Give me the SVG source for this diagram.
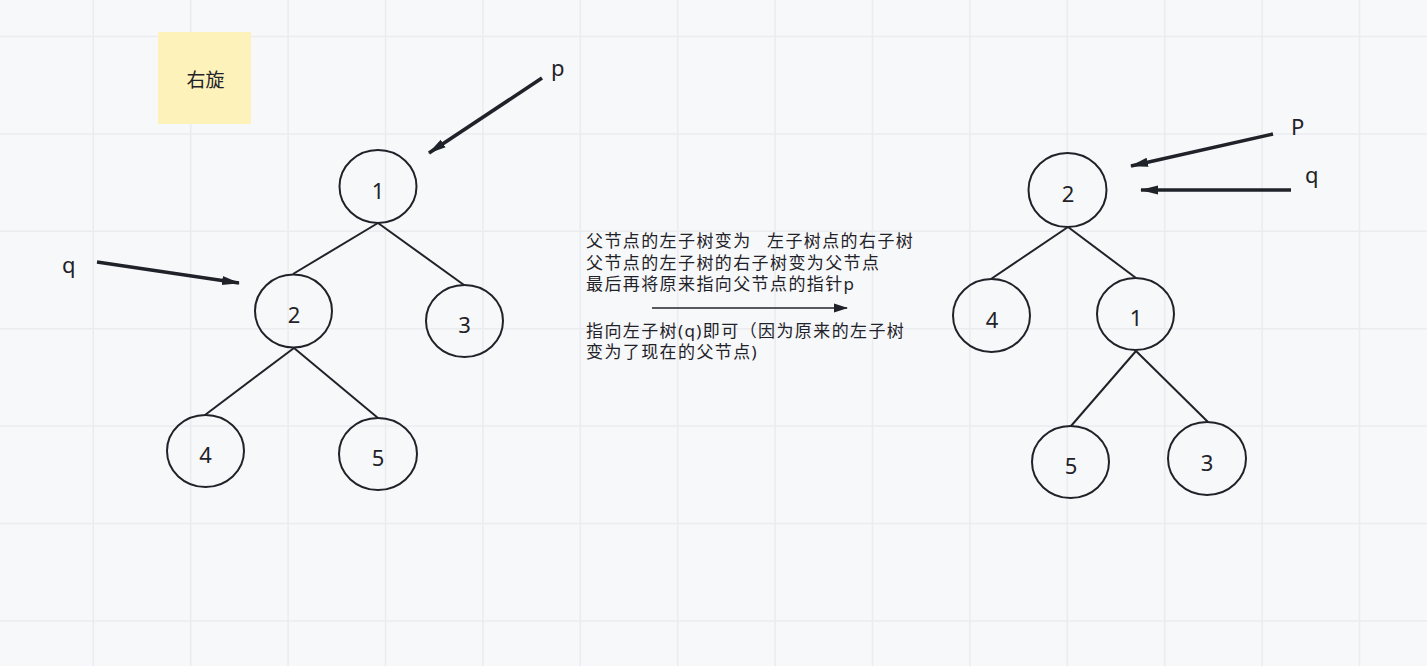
<svg xmlns="http://www.w3.org/2000/svg" width="1427" height="666" viewBox="0 0 1427 666">
<style>
.node ellipse{fill:none;stroke:#1f2329;stroke-width:2}
.node text{font-family:"Noto Sans","Liberation Sans",sans-serif;font-size:22px;fill:#1f2329;text-anchor:middle}
.edge{stroke:#1f2329;stroke-width:2;fill:none}
.ptr{stroke:#1f2329;stroke-width:3.6;fill:none}
.lbl{font-family:"Noto Sans","Liberation Sans",sans-serif;font-size:22px;fill:#1f2329}
.note{font-family:"Noto Sans","Noto Sans CJK SC",sans-serif;font-size:17px;letter-spacing:1.4px;fill:#1f2329}
.grid{stroke:#eaecef;stroke-width:1.5;fill:none}
</style>
<defs>
<marker id="ah" viewBox="0 0 18 11" refX="17" refY="5.5" markerWidth="18" markerHeight="11" markerUnits="userSpaceOnUse" orient="auto">
<path d="M0,1 L18,5.5 L0,10 Z" fill="#1f2329"/>
</marker>
<marker id="ah2" viewBox="0 0 14 10" refX="13" refY="5" markerWidth="14" markerHeight="10" markerUnits="userSpaceOnUse" orient="auto">
<path d="M0,0.5 L14,5 L0,9.5 Z" fill="#1f2329"/>
</marker>
</defs>
<rect width="1427" height="666" fill="#f7f8fa"/>
<path class="grid" d="M93.3,0V666M190.7,0V666M288.1,0V666M385.5,0V666M482.9,0V666M580.3,0V666M677.7,0V666M775.1,0V666M872.5,0V666M969.9,0V666M1067.3,0V666M1164.7,0V666M1262.1,0V666M1359.5,0V666M0,36.5H1427M0,133.9H1427M0,231.3H1427M0,328.7H1427M0,426.1H1427M0,523.5H1427M0,620.9H1427"/>

<g id="sticky">
<rect x="158" y="32" width="93" height="92" fill="#fdf2b9"/>
<text x="205.5" y="87" font-family="Noto Sans CJK SC, sans-serif" font-size="19" fill="#1f2329" text-anchor="middle">右旋</text>
</g>

<g id="connectors">
<line class="edge" x1="378" y1="223" x2="293" y2="274"/>
<line class="edge" x1="378" y1="223" x2="464" y2="285"/>
<line class="edge" x1="294" y1="348" x2="205" y2="415"/>
<line class="edge" x1="294" y1="348" x2="378" y2="418"/>
<line class="edge" x1="1068" y1="227" x2="991" y2="279"/>
<line class="edge" x1="1068" y1="227" x2="1136" y2="278"/>
<line class="edge" x1="1136" y1="351" x2="1071" y2="426"/>
<line class="edge" x1="1136" y1="351" x2="1208" y2="422"/>
<line class="ptr" x1="542" y1="78" x2="429" y2="153" marker-end="url(#ah)"/>
<line class="ptr" x1="97" y1="262" x2="239" y2="283" marker-end="url(#ah)"/>
<line class="ptr" x1="1273" y1="134" x2="1131" y2="166" marker-end="url(#ah)"/>
<line class="ptr" x1="1291" y1="190" x2="1141" y2="190" marker-end="url(#ah)"/>
<line stroke="#1f2329" stroke-width="1.6" x1="652" y1="308" x2="847" y2="308" marker-end="url(#ah2)"/>
</g>

<g id="n1" class="node"><ellipse cx="378" cy="186.5" rx="38.5" ry="36.5"/><text x="378" y="198.5">1</text></g>
<g id="n2" class="node"><ellipse cx="293.5" cy="311" rx="38.5" ry="36.5"/><text x="294" y="323">2</text></g>
<g id="n3" class="node"><ellipse cx="464.5" cy="321" rx="38.5" ry="36"/><text x="464.5" y="333">3</text></g>
<g id="n4" class="node"><ellipse cx="205.5" cy="451" rx="38.5" ry="36"/><text x="205.5" y="463">4</text></g>
<g id="n5" class="node"><ellipse cx="378" cy="454" rx="39" ry="36"/><text x="378" y="466">5</text></g>

<g id="r2" class="node"><ellipse cx="1067.5" cy="190" rx="39" ry="37"/><text x="1068" y="202">2</text></g>
<g id="r4" class="node"><ellipse cx="991.5" cy="315.5" rx="38.5" ry="36.5"/><text x="992" y="327.5">4</text></g>
<g id="r1" class="node"><ellipse cx="1135.5" cy="314" rx="38.5" ry="36"/><text x="1136" y="326">1</text></g>
<g id="r5" class="node"><ellipse cx="1070.5" cy="462" rx="38.5" ry="36"/><text x="1071" y="474">5</text></g>
<g id="r3" class="node"><ellipse cx="1207" cy="458.5" rx="39" ry="36.5"/><text x="1207" y="470.5">3</text></g>

<g id="labels">
<text class="lbl" x="551" y="76">p</text>
<text class="lbl" x="62" y="273">q</text>
<text class="lbl" x="1291" y="135">P</text>
<text class="lbl" x="1305" y="183">q</text>
</g>

<g id="explain" class="note">
<text x="586" y="247">父节点的左子树变为<tspan x="767">左子树点的右子树</tspan></text>
<text x="586" y="269">父节点的左子树的右子树变为父节点</text>
<text x="586" y="290">最后再将原来指向父节点的指针p</text>
<text x="586" y="337">指向左子树(q)即可（因为原来的左子树</text>
<text x="586" y="358">变为了现在的父节点)</text>
</g>
</svg>
